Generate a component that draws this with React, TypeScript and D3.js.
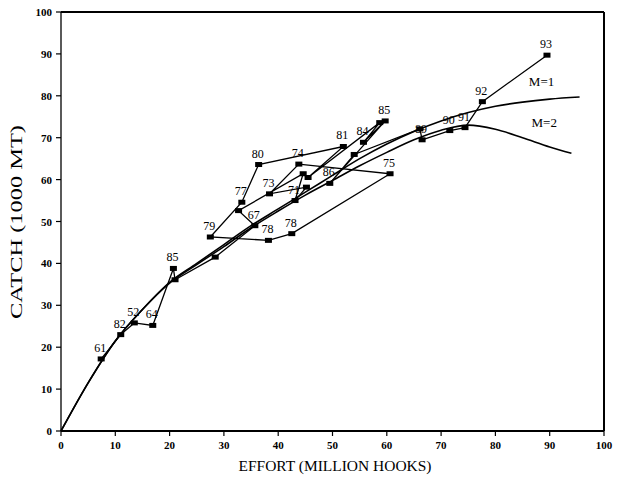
import React from "react";
import * as d3 from "d3";

const pointLabels = ["61","82","52","64","85","","","67","","","71","","73","74","75","78","78","79","77","80","81","","","84","85","86","","","89","90","91","92","93"];
const effort = [7.4,11.0,13.5,16.9,20.7,21.0,28.4,35.7,32.7,44.6,43.1,45.2,38.4,43.8,60.6,42.5,38.2,27.5,33.3,36.4,52.0,45.5,58.7,55.7,59.7,49.5,54.0,66.1,66.5,71.6,74.4,77.6,89.5];
const catchObs = [17.2,23.0,25.8,25.2,38.8,36.1,41.5,49.0,52.6,61.4,55.0,58.2,56.6,63.7,61.4,47.1,45.5,46.3,54.6,63.6,67.9,60.5,73.6,68.9,74.0,59.1,66.0,72.1,69.5,71.7,72.4,78.6,89.7];

// Model curves
const m1Effort = [0,5,10,15,20,25,30,35,40,45,50,55,60,65,70,75,80,85,90,95.5];
const m1Catch = [0,11.5,21.5,29,35.5,40,44.5,49,53,57,61,65,68.5,71.5,74,76,77.5,78.5,79.2,79.7];
const m2Effort = [0,5,10,15,20,25,30,35,40,45,50,55,60,65,70,75,80,85,90,94];
const m2Catch = [0,11.5,21.5,29,35.3,39.7,44,48.5,52.5,56.3,59.8,63.3,66.5,69.5,71.8,73,72,70,67.8,66.3];

const xTicks = [0,10,20,30,40,50,60,70,80,90,100];
const yTicks = [0,10,20,30,40,50,60,70,80,90,100];
const curveLabels = ["M=1","M=2"];
const curveLabelPos = [[88.5,82.3],[89,72.6]];

export default function App() {
  const W = 618, H = 479;
  const x = d3.scaleLinear().domain([0,100]).range([61,604]);
  const y = d3.scaleLinear().domain([0,100]).range([431,12]);
  const pts = effort.map((e,i)=>[e,catchObs[i]] as [number,number]);
  const line = d3.line<[number,number]>().x(d=>x(d[0])).y(d=>y(d[1]));
  const curve = d3.line<[number,number]>().x(d=>x(d[0])).y(d=>y(d[1])).curve(d3.curveMonotoneX);
  const m1 = m1Effort.map((e,i)=>[e,m1Catch[i]] as [number,number]);
  const m2 = m2Effort.map((e,i)=>[e,m2Catch[i]] as [number,number]);
  const tickFont = "'Liberation Serif', serif";
  return (
    <svg width={W} height={H} style={{position:"absolute",left:0,top:0,background:"#fff"}}>
      <rect x={0} y={0} width={W} height={H} fill="#fff"/>
      <g fill="#000">
      {/* frame */}
      <line x1={x(0)} x2={x(100)} y1={y(100)} y2={y(100)} stroke="#000" strokeWidth={2}/>
      <line x1={x(100)} x2={x(100)} y1={y(100)} y2={y(0)} stroke="#000" strokeWidth={2}/>
      <line x1={x(0)} x2={x(100)} y1={y(0)} y2={y(0)} stroke="#000" strokeWidth={1.8}/>
      <line x1={x(0)} x2={x(0)} y1={y(100)} y2={y(0)} stroke="#000" strokeWidth={1.3}/>
      {/* y ticks */}
      {yTicks.map(t=>(
        <g key={"y"+t}>
          <line x1={x(0)-5} x2={x(0)} y1={y(t)} y2={y(t)} stroke="#000" strokeWidth={1.2}/>
          <text x={x(0)-9} y={y(t)+4} textAnchor="end" fill="#000" fontFamily={tickFont} fontWeight="bold" fontSize={11}>{t}</text>
        </g>
      ))}
      {/* x ticks */}
      {xTicks.map(t=>(
        <g key={"x"+t}>
          <line x1={x(t)} x2={x(t)} y1={y(0)} y2={y(0)+5} stroke="#000" strokeWidth={1.2}/>
          <text x={x(t)} y={449} textAnchor="middle" fill="#000" fontFamily={tickFont} fontWeight="bold" fontSize={11}>{t}</text>
        </g>
      ))}
      {/* axis titles */}
      <text x={335} y={471} textAnchor="middle" fill="#000" fontFamily={tickFont} fontSize={15} textLength={193} lengthAdjust="spacingAndGlyphs">EFFORT (MILLION HOOKS)</text>
      <text transform="translate(22,222) rotate(-90)" textAnchor="middle" fill="#000" fontFamily={tickFont} fontSize={17} textLength={194} lengthAdjust="spacingAndGlyphs">CATCH (1000 MT)</text>
      {/* model curves */}
      <path d={curve(m1) || ""} fill="none" stroke="#000" strokeWidth={1.6}/>
      <path d={curve(m2) || ""} fill="none" stroke="#000" strokeWidth={1.6}/>
      {curveLabels.map((l,i)=>(
        <text key={l} x={x(curveLabelPos[i][0])} y={y(curveLabelPos[i][1])} textAnchor="middle" fill="#000" fontFamily={tickFont} fontSize={13}>{l}</text>
      ))}
      {/* observed path */}
      <path d={line(pts) || ""} fill="none" stroke="#000" strokeWidth={1.3}/>
      {pts.map((p,i)=>(
        <rect key={"p"+i} x={x(p[0])-3.5} y={y(p[1])-2.5} width={7} height={5} fill="#000"/>
      ))}
      {pts.map((p,i)=> pointLabels[i] ? (
        <text key={"l"+i} x={x(p[0])-1} y={y(p[1])-7} textAnchor="middle" fill="#000" fontFamily={tickFont} fontSize={12}>{pointLabels[i]}</text>
      ) : null)}
      </g>
    </svg>
  );
}
